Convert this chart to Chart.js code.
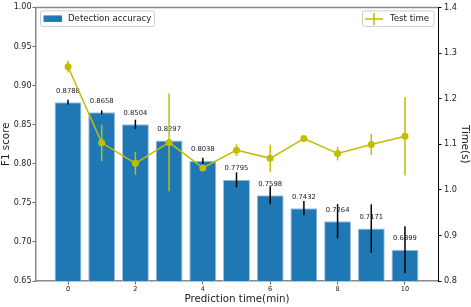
<!DOCTYPE html>
<html>
<head>
<meta charset="utf-8">
<script src="https://cdn.jsdelivr.net/npm/chart.js@4.4.0/dist/chart.umd.min.js"></script>
<style>
  html, body { margin: 0; padding: 0; background: #fff; }
  #wrap { width: 471px; height: 307px; }
</style>
</head>
<body>
<div id="wrap"><canvas id="chart" width="471" height="307"></canvas></div>
<script>
// ---- Data
const predTimes   = [0, 1, 2, 3, 4, 5, 6, 7, 8, 9, 10];
const accuracy    = [0.8788, 0.8658, 0.8504, 0.8297, 0.8038, 0.7795, 0.7598, 0.7432, 0.7264, 0.7171, 0.6899];
const accuracyErr = [0.003, 0.0025, 0.006, 0.001, 0.004, 0.0095, 0.0115, 0.009, 0.022, 0.031, 0.030];
const testTime    = [1.270, 1.103, 1.058, 1.104, 1.048, 1.087, 1.069, 1.1125, 1.0796, 1.0993, 1.1175];
const testTimeErr = [0.013, 0.040, 0.025, 0.107, 0.005, 0.013, 0.030, 0.001, 0.015, 0.023, 0.086];
const xTicks      = [0, 2, 4, 6, 8, 10];
const leftTicks   = [0.65, 0.70, 0.75, 0.80, 0.85, 0.90, 0.95, 1.00];
const rightTicks  = [0.8, 0.9, 1.0, 1.1, 1.2, 1.3, 1.4];

const FONT = '"DejaVu Sans", sans-serif';
const BLUE = '#1f77b4';
const OLIVE = '#bfbf00';

// ---- Custom drawing: error bars, value labels, legends, top spine
const extras = {
  id: 'extras',
  afterDatasetDraw(chart, args) {
    const ctx = chart.ctx;
    const y = chart.scales.y;
    if (args.index !== 0) return;
    ctx.save();
    ctx.strokeStyle = '#000';
    ctx.lineWidth = 1.5;
    args.meta.data.forEach((el, i) => {
      ctx.beginPath();
      ctx.moveTo(el.x, y.getPixelForValue(accuracy[i] + accuracyErr[i]));
      ctx.lineTo(el.x, y.getPixelForValue(accuracy[i] - accuracyErr[i]));
      ctx.stroke();
    });
    ctx.fillStyle = '#222';
    ctx.font = '6.8px ' + FONT;
    ctx.textAlign = 'center';
    ctx.textBaseline = 'bottom';
    args.meta.data.forEach((el, i) => {
      ctx.fillText(accuracy[i].toFixed(4), el.x, y.getPixelForValue(accuracy[i] + 0.01));
    });
    ctx.restore();
  },
  beforeDatasetDraw(chart, args) {
    if (args.index !== 1) return;
    const ctx = chart.ctx;
    const x = chart.scales.x, y1 = chart.scales.y1;
    ctx.save();
    ctx.strokeStyle = OLIVE;
    ctx.lineWidth = 1.5;
    predTimes.forEach((t, i) => {
      const px = x.getPixelForValue(t);
      ctx.beginPath();
      ctx.moveTo(px, y1.getPixelForValue(testTime[i] + testTimeErr[i]));
      ctx.lineTo(px, y1.getPixelForValue(testTime[i] - testTimeErr[i]));
      ctx.stroke();
    });
    ctx.restore();
  },
  afterDraw(chart) {
    const ctx = chart.ctx;
    const a = chart.chartArea;
    ctx.save();
    // top spine
    ctx.strokeStyle = '#888';
    ctx.lineWidth = 1.5;
    ctx.beginPath();
    ctx.moveTo(a.left, a.top);
    ctx.lineTo(a.right, a.top);
    ctx.stroke();

    ctx.font = '8.6px ' + FONT;
    ctx.textBaseline = 'middle';
    ctx.textAlign = 'left';

    // left legend
    ctx.fillStyle = 'rgba(255,255,255,0.8)';
    ctx.strokeStyle = '#cccccc';
    ctx.lineWidth = 1;
    ctx.beginPath();
    ctx.roundRect(a.left + 4.5, a.top + 3.5, 114, 15.5, 2);
    ctx.fill(); ctx.stroke();
    ctx.fillStyle = BLUE;
    ctx.fillRect(a.left + 7.5, a.top + 8, 18.5, 6.5);
    ctx.fillStyle = '#222';
    ctx.fillText('Detection accuracy', a.left + 32, a.top + 11.5);

    // right legend
    ctx.fillStyle = 'rgba(255,255,255,0.8)';
    ctx.beginPath();
    ctx.roundRect(a.right - 75.5, a.top + 3.5, 71.5, 15.5, 2);
    ctx.fill(); ctx.stroke();
    ctx.strokeStyle = OLIVE;
    ctx.lineWidth = 1.5;
    ctx.beginPath();
    ctx.moveTo(a.right - 73, a.top + 11.5);
    ctx.lineTo(a.right - 55, a.top + 11.5);
    ctx.moveTo(a.right - 64, a.top + 5.5);
    ctx.lineTo(a.right - 64, a.top + 17.5);
    ctx.stroke();
    ctx.fillStyle = '#222';
    ctx.fillText('Test time', a.right - 48, a.top + 11.5);
    ctx.restore();
  }
};

const tickFont = (size) => ({ family: FONT, size: size });
const titleFont = { family: FONT, size: 10.3 };

new Chart(document.getElementById('chart'), {
  data: {
    datasets: [
      {
        type: 'bar',
        label: 'Detection accuracy',
        data: predTimes.map((t, i) => ({ x: t, y: accuracy[i] })),
        backgroundColor: BLUE,
        borderColor: '#9ec3de',
        borderWidth: 1,
        barPercentage: 0.8,
        categoryPercentage: 1.0,
        yAxisID: 'y',
        order: 1
      },
      {
        type: 'line',
        label: 'Test time',
        data: predTimes.map((t, i) => ({ x: t, y: testTime[i] })),
        borderColor: OLIVE,
        backgroundColor: OLIVE,
        borderWidth: 1.5,
        pointRadius: 3.5,
        pointBorderWidth: 0,
        tension: 0,
        yAxisID: 'y1',
        order: 0
      }
    ]
  },
  options: {
    responsive: false,
    animation: false,
    layout: { padding: { top: 7, left: 0, right: 0, bottom: 0 } },
    plugins: { legend: { display: false }, tooltip: { enabled: false } },
    scales: {
      x: {
        type: 'linear',
        offset: false,
        min: -0.95,
        max: 10.98,
        afterBuildTicks: s => { s.ticks = xTicks.map(v => ({ value: v })); },
        afterFit: s => { s.height = 26; },
        ticks: { font: tickFont(6.6), color: '#222', padding: 1, maxRotation: 0 },
        grid: { drawOnChartArea: false, tickLength: 3.5, color: '#666', offset: false },
        border: { color: '#888', width: 1.5 },
        title: { display: true, text: 'Prediction time(min)', font: titleFont, color: '#222', padding: { top: 0, bottom: 1 } }
      },
      y: {
        position: 'left',
        min: 0.65,
        max: 1.0,
        afterBuildTicks: s => { s.ticks = leftTicks.map(v => ({ value: v })); },
        afterFit: s => { s.width = 36; },
        ticks: { font: tickFont(8), color: '#222', padding: 1, callback: v => v.toFixed(2) },
        grid: { drawOnChartArea: false, tickLength: 3.5, color: '#666' },
        border: { color: '#888', width: 1.5 },
        title: { display: true, text: 'F1 score', font: titleFont, color: '#222', padding: 0 }
      },
      y1: {
        position: 'right',
        min: 0.8,
        max: 1.4,
        afterBuildTicks: s => { s.ticks = rightTicks.map(v => ({ value: v })); },
        afterFit: s => { s.width = 33; },
        ticks: { font: tickFont(8.2), color: '#222', padding: 2.5, callback: v => v.toFixed(1) },
        grid: { drawOnChartArea: false, tickLength: 3.5, color: '#000' },
        border: { color: '#000', width: 1 },
        title: { display: true, text: 'Time(s)', font: titleFont, color: '#222', padding: 0 }
      }
    }
  },
  plugins: [extras]
});
</script>
</body>
</html>
